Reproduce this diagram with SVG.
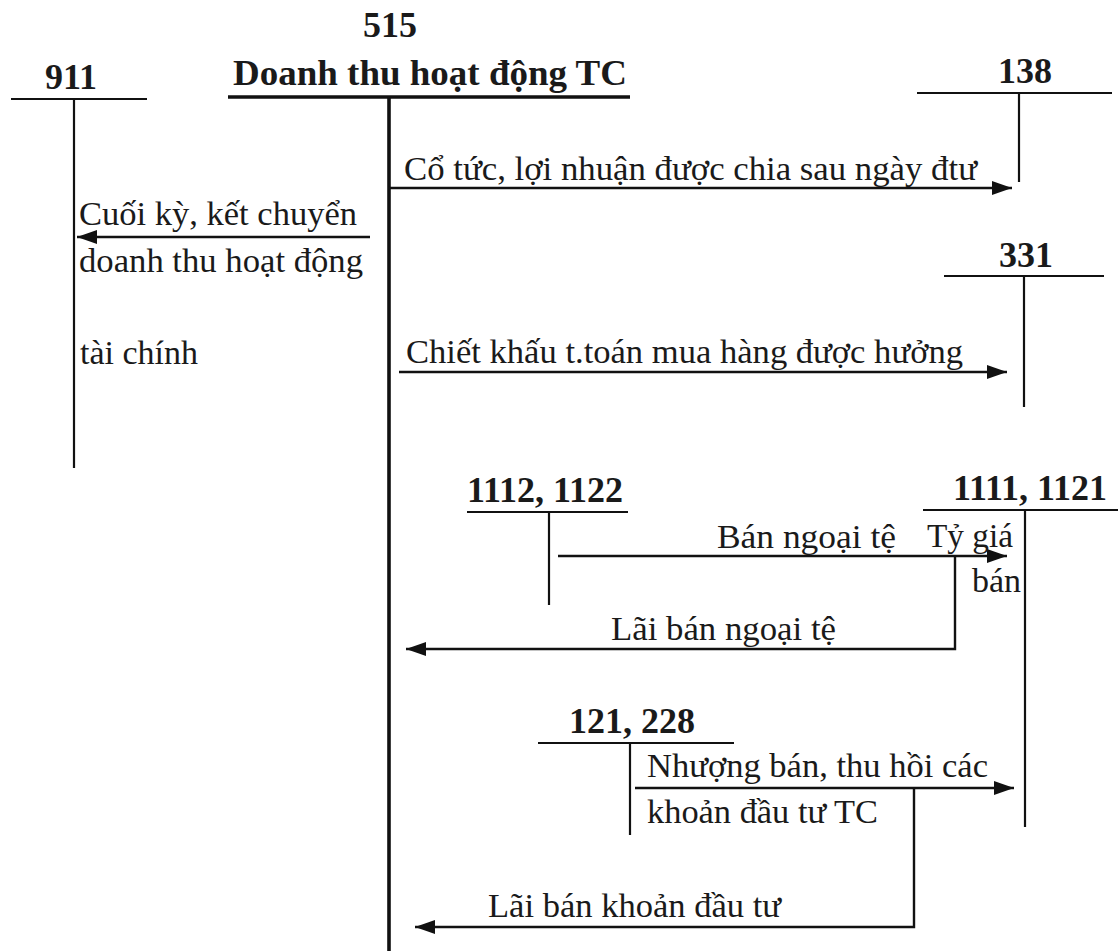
<svg xmlns="http://www.w3.org/2000/svg" width="1118" height="951" viewBox="0 0 1118 951">
<style>
text{font-family:"Liberation Serif","Times New Roman",serif;fill:#1a1a1a}
.h{font-weight:bold;font-size:36px}
.t{font-size:34px}
.ln{stroke:#111;stroke-width:2.2;fill:none}
.thk{stroke:#111;stroke-width:3.6;fill:none}
.ar{stroke:#111;stroke-width:2.4;fill:none;marker-end:url(#ah)}
</style>
<defs>
<marker id="ah" markerUnits="userSpaceOnUse" markerWidth="22" markerHeight="16" refX="20" refY="8" orient="auto">
<path d="M0,1 L20,8 L0,15 z" fill="#111"/>
</marker>
</defs>
<rect width="1118" height="951" fill="#fff"/>

<g id="acc911">
<text class="h" x="45" y="89">911</text>
<line class="ln" x1="11" y1="99" x2="147" y2="99"/>
<line class="ln" x1="74" y1="99" x2="74" y2="468"/>
</g>

<g id="acc515">
<text class="h" x="390" y="37" text-anchor="middle">515</text>
<text class="h" x="233" y="85" textLength="394" lengthAdjust="spacingAndGlyphs">Doanh thu hoạt động TC</text>
<line class="thk" x1="228" y1="97" x2="630" y2="97"/>
<line class="thk" x1="389" y1="97" x2="389" y2="951"/>
</g>

<g id="acc138">
<text class="h" x="998" y="83">138</text>
<line class="ln" x1="917" y1="93" x2="1112" y2="93"/>
<line class="ln" x1="1019" y1="93" x2="1019" y2="182"/>
</g>

<g id="acc331">
<text class="h" x="999" y="267">331</text>
<line class="ln" x1="944" y1="276" x2="1104" y2="276"/>
<line class="ln" x1="1024" y1="276" x2="1024" y2="407"/>
</g>

<g id="acc1112">
<text class="h" x="467" y="502">1112, 1122</text>
<line class="ln" x1="467" y1="512" x2="628" y2="512"/>
<line class="ln" x1="549" y1="512" x2="549" y2="605"/>
</g>

<g id="acc1111">
<text class="h" x="953" y="500">1111, 1121</text>
<line class="ln" x1="923" y1="510" x2="1118" y2="510"/>
<line class="ln" x1="1025" y1="510" x2="1025" y2="827"/>
</g>

<g id="acc121">
<text class="h" x="569" y="733">121, 228</text>
<line class="ln" x1="538" y1="743" x2="734" y2="743"/>
<line class="ln" x1="630" y1="743" x2="630" y2="835"/>
</g>

<g id="connectors">
<line class="ar" x1="388" y1="188" x2="1012" y2="188"/>
<line class="ar" x1="370" y1="237" x2="77" y2="237"/>
<line class="ar" x1="399" y1="372" x2="1007" y2="372"/>
<line class="ar" x1="558" y1="556" x2="1007" y2="556"/>
<polyline class="ar" points="955,556 955,649 406,649"/>
<line class="ar" x1="635" y1="788" x2="1014" y2="788"/>
<polyline class="ar" points="914,788 914,927 415,927"/>
</g>

<g id="labels">
<text class="t" x="404" y="180" textLength="573" lengthAdjust="spacingAndGlyphs">Cổ tức, lợi nhuận được chia sau ngày đtư</text>
<text class="t" x="79" y="225" textLength="278" lengthAdjust="spacingAndGlyphs">Cuối kỳ, kết chuyển</text>
<text class="t" x="79" y="272" textLength="284" lengthAdjust="spacingAndGlyphs">doanh thu hoạt động</text>
<text class="t" x="80" y="364">tài chính</text>
<text class="t" x="406" y="363" textLength="557" lengthAdjust="spacingAndGlyphs">Chiết khấu t.toán mua hàng được hưởng</text>
<text class="t" x="717" y="548" textLength="179" lengthAdjust="spacingAndGlyphs">Bán ngoại tệ</text>
<text class="t" x="927" y="547" textLength="86" lengthAdjust="spacingAndGlyphs">Tỷ giá</text>
<text class="t" x="972" y="592">bán</text>
<text class="t" x="611" y="640" textLength="225" lengthAdjust="spacingAndGlyphs">Lãi bán ngoại tệ</text>
<text class="t" x="647" y="777" textLength="341" lengthAdjust="spacingAndGlyphs">Nhượng bán, thu hồi các</text>
<text class="t" x="647" y="823" textLength="231" lengthAdjust="spacingAndGlyphs">khoản đầu tư TC</text>
<text class="t" x="488" y="917" textLength="293" lengthAdjust="spacingAndGlyphs">Lãi bán khoản đầu tư</text>
</g>
</svg>
